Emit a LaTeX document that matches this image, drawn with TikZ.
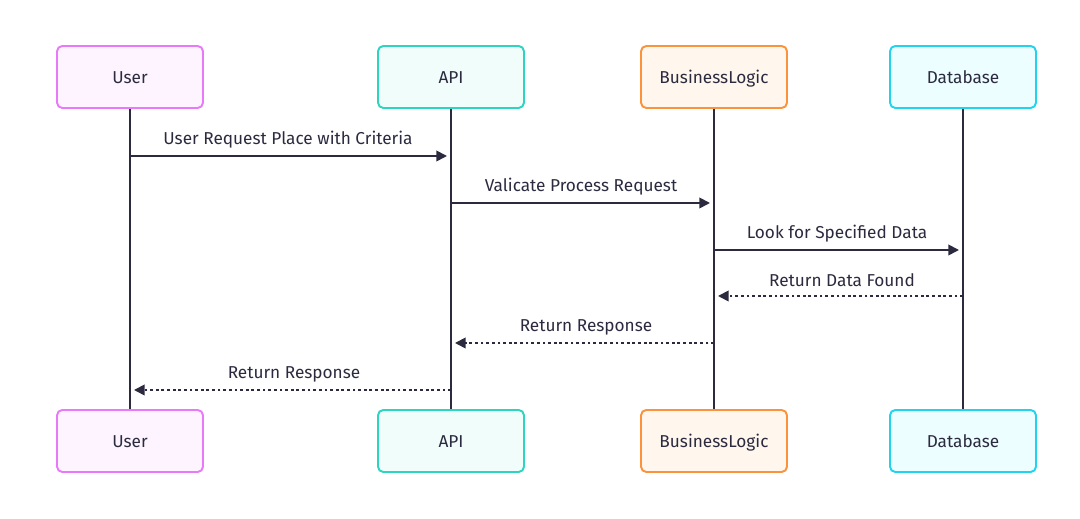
\documentclass[tikz,border=0pt]{standalone}
\usepackage{fontspec}
\setmainfont{Fira Sans}
\usetikzlibrary{arrows.meta}
\definecolor{lineclr}{HTML}{2B2A3F}
\definecolor{userline}{HTML}{E879F9}
\definecolor{userfill}{HTML}{FDF4FF}
\definecolor{apiline}{HTML}{2DD4BF}
\definecolor{apifill}{HTML}{F0FDFA}
\definecolor{logicline}{HTML}{FB923C}
\definecolor{logicfill}{HTML}{FFF7ED}
\definecolor{dbline}{HTML}{22D3EE}
\definecolor{dbfill}{HTML}{ECFEFF}
\begin{document}
\begin{tikzpicture}[x=0.02cm, y=-0.02cm,
		actor/.style={shape=rectangle, rounded corners=3pt, line width=1.1pt, minimum width=2.92cm, minimum height=1.24cm, text height=1.6ex, text depth=0.3ex, font=\fontsize{9.8}{11}\selectfont, text=lineclr},
		lifeline/.style={draw=lineclr, line width=1pt},
		msg/.style={draw=lineclr, line width=1pt, -{Triangle[length=6pt, width=6pt]}},
		reply/.style={msg, dash pattern=on 1.6pt off 1.6pt},
		msglabel/.style={font=\fontsize{9.8}{11}\selectfont, text=lineclr, inner sep=0pt}]
		\useasboundingbox (0, 0) rectangle (1080, 519);
		% Participants, top and bottom:
		\node[actor, draw=userline, fill=userfill] (usertop) at (130, 77){User};
		\node[actor, draw=apiline, fill=apifill] (apitop) at (451, 77){API};
		\node[actor, draw=logicline, fill=logicfill] (logictop) at (714, 77){BusinessLogic};
		\node[actor, draw=dbline, fill=dbfill] (dbtop) at (963, 77){Database};
		\node[actor, draw=userline, fill=userfill] (userbot) at (130, 441){User};
		\node[actor, draw=apiline, fill=apifill] (apibot) at (451, 441){API};
		\node[actor, draw=logicline, fill=logicfill] (logicbot) at (714, 441){BusinessLogic};
		\node[actor, draw=dbline, fill=dbfill] (dbbot) at (963, 441){Database};
		% Lifelines:
		\draw[lifeline] (usertop) -- (userbot);
		\draw[lifeline] (apitop) -- (apibot);
		\draw[lifeline] (logictop) -- (logicbot);
		\draw[lifeline] (dbtop) -- (dbbot);
		% Message end points:
		\coordinate (m1s) at (130, 156); \coordinate (m1e) at (447, 156);
		\coordinate (m2s) at (451, 203); \coordinate (m2e) at (710, 203);
		\coordinate (m3s) at (714, 250); \coordinate (m3e) at (959, 250);
		\coordinate (m4s) at (963, 296); \coordinate (m4e) at (718, 296);
		\coordinate (m5s) at (714, 343); \coordinate (m5e) at (455, 343);
		\coordinate (m6s) at (451, 390); \coordinate (m6e) at (134, 390);
		% Messages:
		\draw[msg] (m1s) -- (m1e);
		\draw[msg] (m2s) -- (m2e);
		\draw[msg] (m3s) -- (m3e);
		\draw[reply] (m4s) -- (m4e);
		\draw[reply] (m5s) -- (m5e);
		\draw[reply] (m6s) -- (m6e);
		\node[msglabel] (l1) at (288, 140){User Request Place with Criteria};
		\node[msglabel] (l2) at (581, 187){Valicate Process Request};
		\node[msglabel] (l3) at (837, 234){Look for Specified Data};
		\node[msglabel] (l4) at (842, 280){Return Data Found};
		\node[msglabel] (l5) at (586, 327){Return Response};
		\node[msglabel] (l6) at (294, 374){Return Response};
	\end{tikzpicture}
\end{document}
